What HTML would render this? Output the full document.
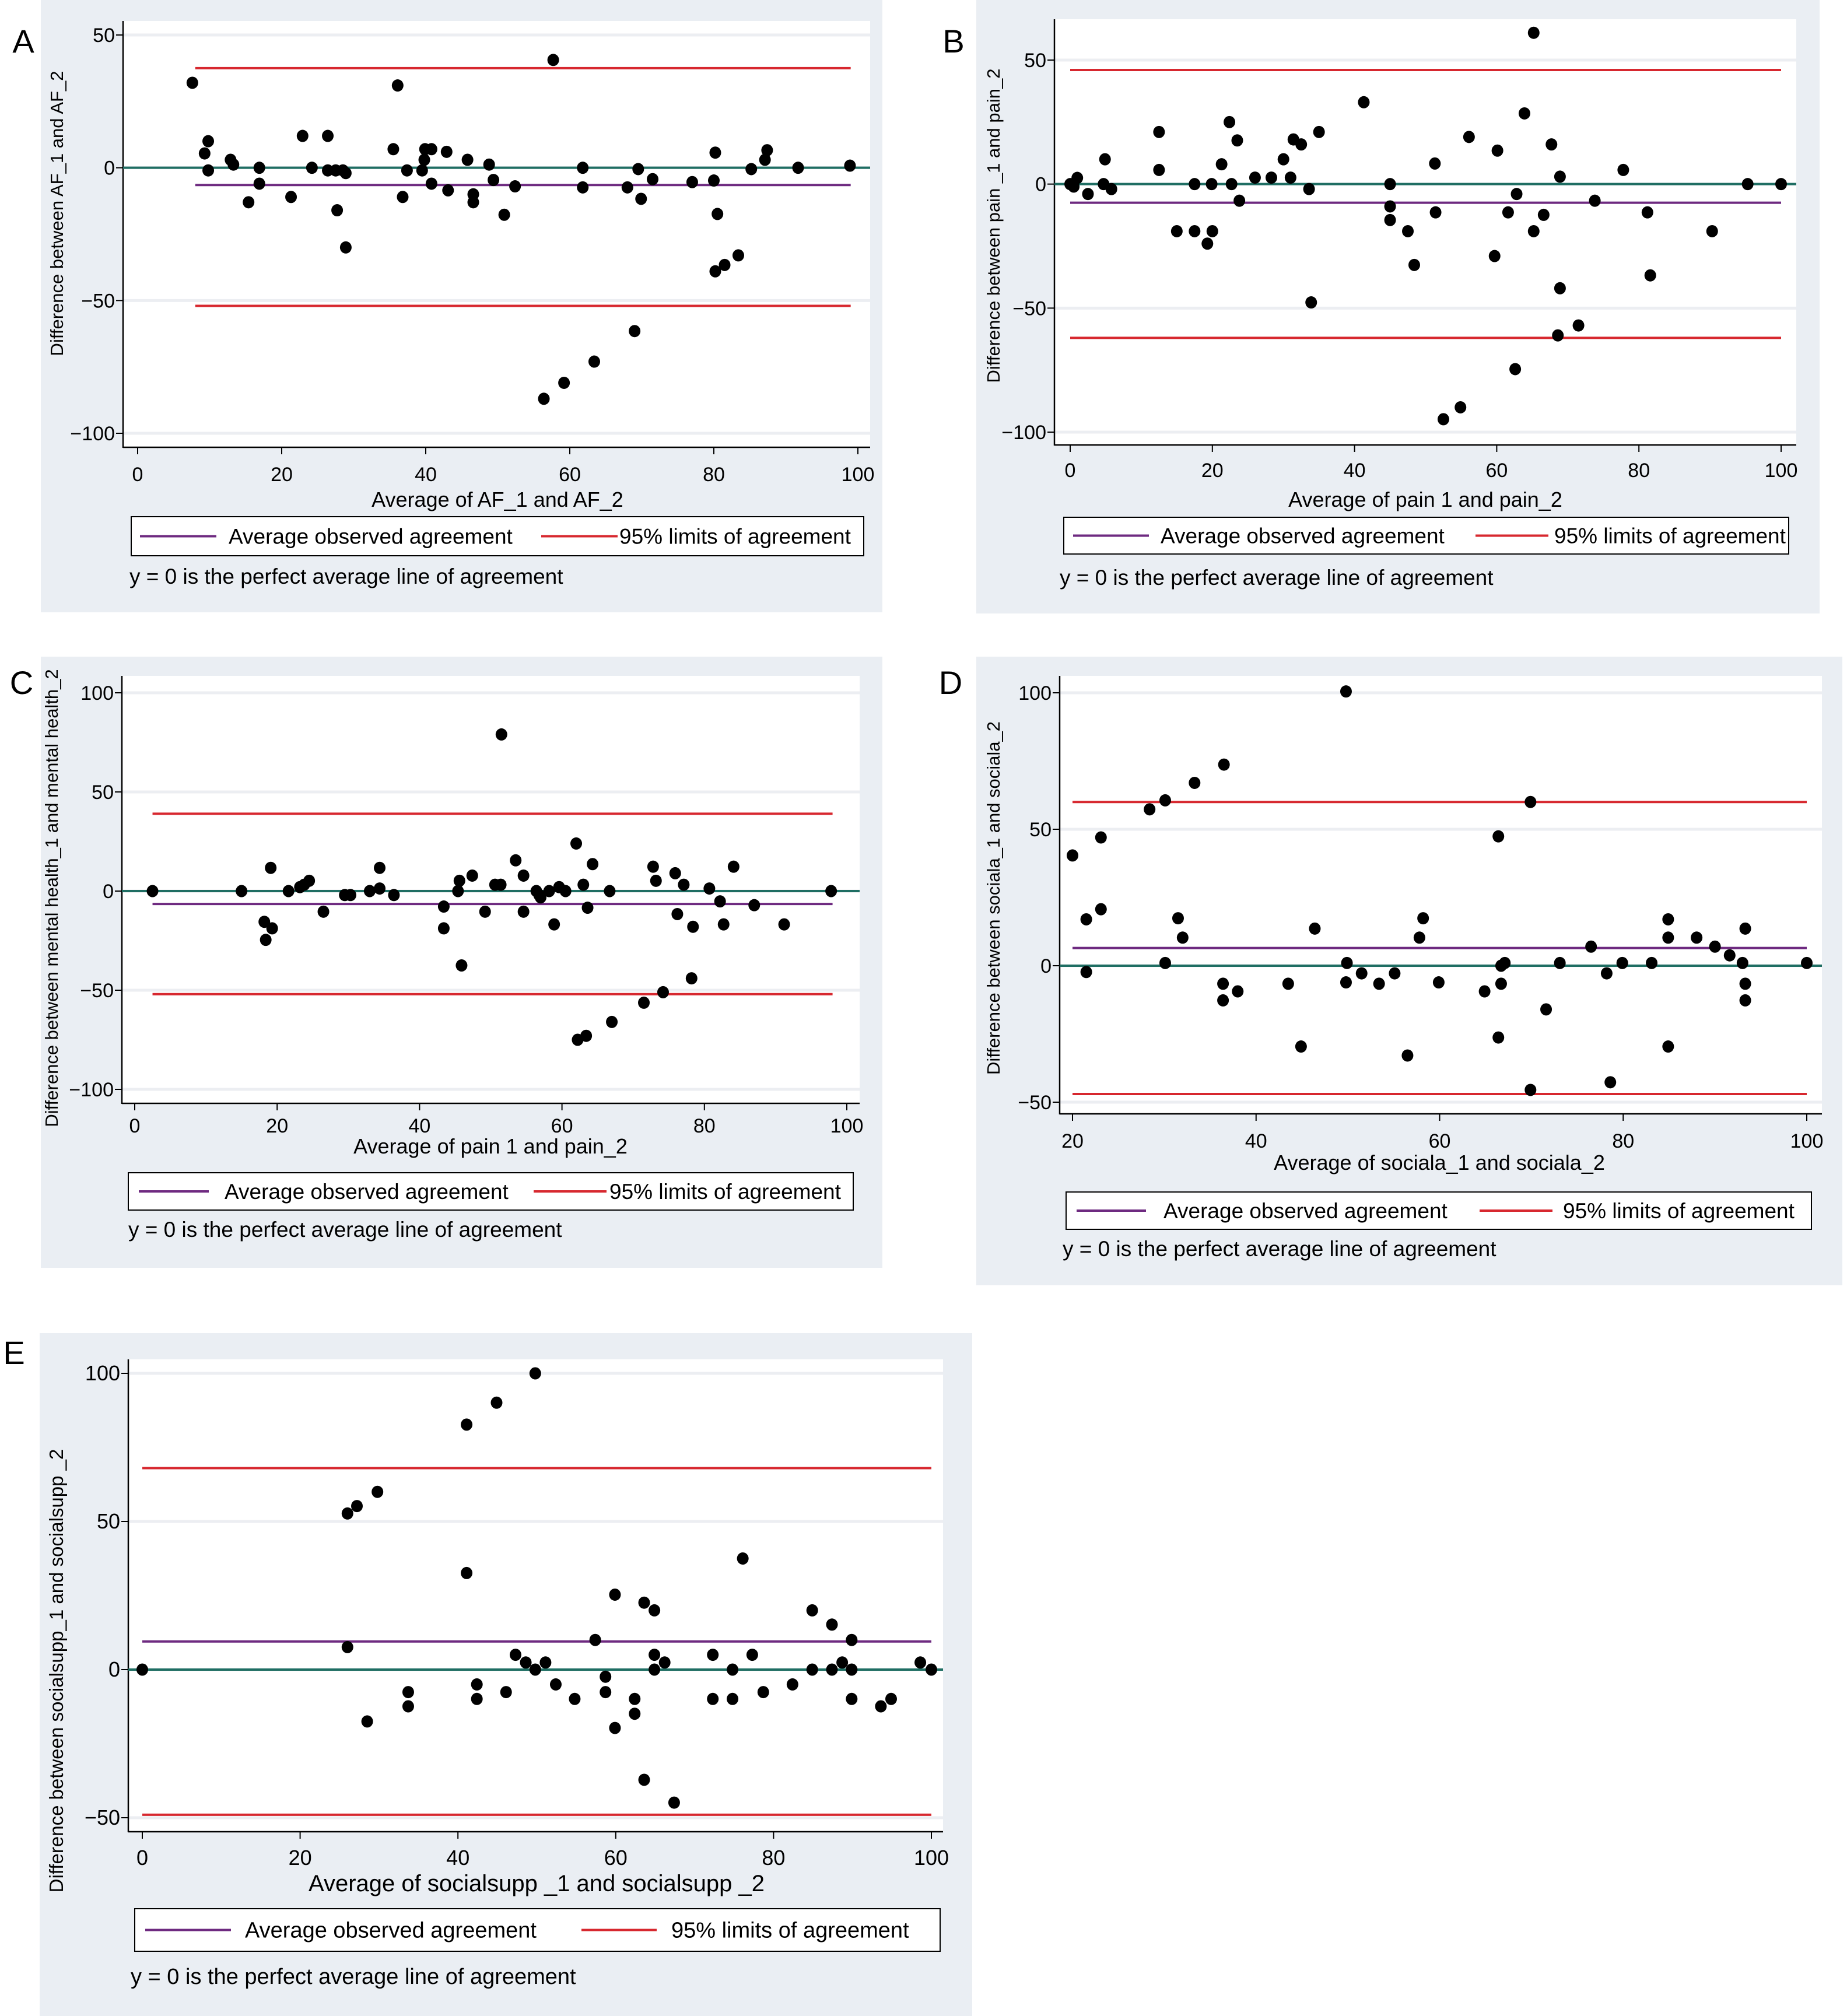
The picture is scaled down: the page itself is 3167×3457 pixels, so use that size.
<!DOCTYPE html>
<html><head><meta charset="utf-8"><style>
html,body{margin:0;padding:0;background:#fff;}
svg{display:block;font-family:"Liberation Sans",sans-serif;}
</style></head><body>
<svg id="fig" width="3167" height="3457" viewBox="0 0 3167 3457" xmlns="http://www.w3.org/2000/svg"></svg>
<script>
// ---- Panel A data ----
const aX=[7.6,9.3,9.8,9.8,12.9,13.3,15.4,16.9,16.9,21.3,22.9,24.2,26.4,26.4,27.5,27.7,28.5,28.9,28.9,35.5,36.1,36.8,37.4,39.5,39.8,39.9,40.8,40.8,42.9,43.1,45.8,46.6,46.6,48.8,49.4,50.9,52.4,56.4,57.7,59.2,61.8,61.8,63.4,68,69,69.5,69.9,71.5,77,80,80.2,80.2,80.5,81.5,83.4,85.2,87.1,87.4,91.7,98.9];
const aY=[32,5.4,10,-1,3,1.2,-13,0,-6,-11,12,0,12,-1,-1,-16,-1,-2,-30,7,31,-11,-1,-1,3,7,7,-6,6,-8.5,3,-10,-13,1.2,-4.6,-17.7,-7,-87,40.6,-81,0,-7.4,-73,-7.4,-61.5,-0.5,-11.7,-4.3,-5.4,-4.8,5.7,-39,-17.4,-36.6,-33,-0.5,3,6.6,0,0.8];
const aLines=[37.5,-6.5,-52];
const aXTicks=[0,20,40,60,80,100];
const aYTicks=[50,0,-50,-100];
// ---- Panel B data ----
const bX=[0,0.5,1,2.5,4.9,4.7,5.8,12.5,12.5,15,17.5,17.5,19.3,19.9,20,21.3,22.4,22.7,23.5,23.8,26,28.3,30,31,31.4,32.5,33.6,33.9,35,41.3,45,45,45,47.5,48.4,51.3,51.4,52.5,54.9,56.1,59.7,60.1,61.6,62.6,62.8,63.9,65.2,65.2,66.6,67.7,68.6,68.9,68.9,71.5,73.8,77.8,81.2,81.6,90.3,95.3,100];
const bY=[0,-1,2.5,-4,10,0,-2,21,5.7,-19,0,-19,-24,0,-19,8,25,0,17.6,-6.7,2.6,2.6,10,2.6,18,16,-2,-47.7,21,33,0,-9,-14.5,-19,-32.6,8.3,-11.4,-94.8,-90,19,-29,13.5,-11.4,-74.6,-4,28.5,61,-19,-12.4,16,-61,-42,3,-57,-6.7,5.7,-11.4,-36.8,-19,0,0];
const bLines=[46,-7.5,-62];
const bXTicks=[0,20,40,60,80,100];
const bYTicks=[50,0,-50,-100];
// ---- Panel C data ----
const cX=[2.5,15,18.2,18.4,19.1,19.3,21.6,23.2,23.8,24.5,26.5,29.5,30.3,33,34.4,34.4,36.4,43.4,43.4,45.4,45.6,45.9,47.4,49.2,50.6,51.4,51.5,53.5,54.6,54.6,56.4,56.8,57,58.2,58.9,59.6,60.5,62,62.2,63.4,63,63.6,64.3,66.7,67,71.5,72.8,73.2,74.2,75.9,76.2,77.1,78.4,78.2,80.7,82.2,82.7,84.1,87,91.2,97.8];
const cY=[0,0,-15.5,-24.6,11.7,-18.8,0,2,3.2,5.2,-10.4,-2,-2,0,1.3,11.7,-2,-7.8,-18.8,0,5.2,-37.5,7.8,-10.4,3.2,3.2,79,15.5,7.8,-10.4,0,-2,-3.2,0,-16.8,2,0,24,-75,-73,3.2,-8.4,13.6,0,-66,-56.3,12.3,5.2,-51,9,-11.6,3.2,-18,-44,1.3,-5.2,-16.8,12.3,-7.1,-16.8,0];
const cLines=[39,-6.5,-52];
const cXTicks=[0,20,40,60,80,100];
const cYTicks=[100,50,0,-50,-100];
// ---- Panel D data ----
const dX=[20,21.5,21.5,23.1,23.1,28.4,30.1,30.1,31.5,32,33.3,36.5,36.4,36.4,38,43.5,44.9,46.4,49.8,49.9,49.8,51.5,53.4,55.1,56.5,57.8,58.2,59.9,64.9,66.4,66.4,66.7,66.7,67.1,69.9,69.9,71.6,73.1,76.5,78.2,78.6,79.9,83.1,84.9,84.9,84.9,88,90,91.6,93,93.3,93.3,93.3,100];
const dY=[40.4,17,-2.3,47,20.7,57.3,60.6,1,17.4,10.3,67,73.7,-6.6,-12.7,-9.4,-6.6,-29.6,13.6,100.5,1,-6.1,-2.8,-6.6,-2.8,-32.9,10.3,17.4,-6.1,-9.4,47.4,-26.3,-6.6,0,1,60,-45.5,-16,1,7,-2.8,-42.7,1,1,17,10.3,-29.6,10.3,7,3.8,1,13.6,-6.6,-12.7,1];
const dLines=[60,6.5,-47];
const dXTicks=[20,40,60,80,100];
const dYTicks=[100,50,0,-50];
// ---- Panel E data ----
const eX=[0,26,26,27.2,28.5,29.8,33.7,33.7,41.1,41.1,42.4,42.4,44.9,46.1,47.3,48.6,49.8,49.8,51.1,52.4,54.8,57.4,58.7,58.7,59.9,59.9,62.4,62.4,63.6,63.6,64.9,64.9,64.9,66.2,67.4,72.3,72.3,74.8,74.8,76.1,77.3,78.7,82.4,84.9,84.9,87.4,87.4,88.7,89.9,89.9,89.9,93.6,94.9,98.6,100];
const eY=[0,52.7,7.6,55.2,-17.5,60,-7.6,-12.4,82.7,32.6,-5,-9.9,90.1,-7.6,5,2.4,100,0,2.4,-5,-9.9,10,-2.4,-7.6,25.3,-19.7,-9.9,-14.9,22.6,-37.2,20,5,0,2.4,-44.9,5,-9.9,0,-9.9,37.5,5,-7.6,-5,20,0,15.2,0,2.4,10,0,-9.9,-12.4,-9.9,2.4,0];
const eLines=[68,9.5,-49];
const eXTicks=[0,20,40,60,80,100];
const eYTicks=[100,50,0,-50];

const NS="http://www.w3.org/2000/svg";
const svg=document.getElementById('fig');
function mk(tag,attrs,parent,text){const e=document.createElementNS(NS,tag);for(const k in attrs)e.setAttribute(k,attrs[k]);if(text!==undefined)e.textContent=text;(parent||svg).appendChild(e);return e;}

function drawPanel(L,xs,ys,lines,xt,yt){
  const g=mk('g',{});
  
  
  const bg=mk('rect',{x:L.bg[0],y:L.bg[1],width:L.bg[2]-L.bg[0],height:L.bg[3]-L.bg[1],fill:'#eaeef3'},g);
  
  
  const [px0,py0,px1,py1]=L.plot;
  const pr=mk('rect',{x:px0,y:py0,width:px1-px0,height:py1-py0,fill:'#ffffff'},g);
  
  
  const sx=v=>L.xm[1]+(v-L.xm[0])*(L.xm[3]-L.xm[1])/(L.xm[2]-L.xm[0]);
  const sy=v=>L.ym[1]+(v-L.ym[0])*(L.ym[3]-L.ym[1])/(L.ym[2]-L.ym[0]);
  yt.forEach(t=>{
    const gl=mk('line',{x1:px0,x2:px1,y1:sy(t),y2:sy(t),stroke:'#eceef2','stroke-width':5},g);
    
    
    mk('line',{x1:px0-12,x2:px0,y1:sy(t),y2:sy(t),stroke:'#000','stroke-width':2},g);
    const tl=mk('text',{x:px0-14,y:sy(t)+12,'text-anchor':'end','font-size':L.tfs,fill:'#000'},g,t<0?'\u2212'+Math.abs(t):String(t));
    
    
  });
  xt.forEach(t=>{
    mk('line',{x1:sx(t),x2:sx(t),y1:py1,y2:py1+12,stroke:'#000','stroke-width':2},g);
    const tl=mk('text',{x:sx(t),y:L.xtb,'text-anchor':'middle','font-size':L.tfs,fill:'#000'},g,String(t));
    
    
  });
  mk('line',{x1:px0,x2:px0,y1:py0,y2:py1+1,stroke:'#000','stroke-width':2.5},g);
  mk('line',{x1:px0,x2:px1,y1:py1,y2:py1,stroke:'#000','stroke-width':2.5},g);
  const x0=sx(L.lx[0]),x1=sx(L.lx[1]);
  const zl=mk('line',{x1:px0,x2:px1,y1:sy(0),y2:sy(0),stroke:'#1f6e63','stroke-width':4},g);
  
  
  const up=mk('line',{x1:x0,x2:x1,y1:sy(lines[0]),y2:sy(lines[0]),stroke:'#d7282f','stroke-width':4},g);
  
  
  const mn=mk('line',{x1:x0,x2:x1,y1:sy(lines[1]),y2:sy(lines[1]),stroke:'#6e2a80','stroke-width':4},g);
  
  
  const lo=mk('line',{x1:x0,x2:x1,y1:sy(lines[2]),y2:sy(lines[2]),stroke:'#d7282f','stroke-width':4},g);
  
  
  xs.forEach((v,i)=>{
    const c=mk('ellipse',{cx:sx(v),cy:sy(ys[i]),rx:10,ry:10.5,fill:'#000'},g);
    
    
  });
  const xtl=mk('text',{x:L.xtc,y:L.xtt,'text-anchor':'middle','font-size':L.xfs,fill:'#000'},g,L.xtitle);
  
  
  const ytl=mk('text',{x:0,y:0,'text-anchor':'middle','font-size':L.yfs,fill:'#000',transform:`translate(${L.ytp[0]},${L.ytp[1]}) rotate(-90)`},g,L.ytitle);
  
  
  const let_=mk('text',{x:L.let[0],y:L.let[1],'text-anchor':'middle','font-size':56,fill:'#000'},g,L.id);
  
  
  const lb=L.leg;
  const lg=mk('g',{},g);
  
  
  mk('rect',{x:lb[0],y:lb[1],width:lb[2]-lb[0],height:lb[3]-lb[1],fill:'#fff',stroke:'#000','stroke-width':2},lg);
  const ly=(lb[1]+lb[3])/2;
  mk('line',{x1:L.le[0],x2:L.le[1],y1:ly,y2:ly,stroke:'#6e2a80','stroke-width':4},lg);
  const t1=mk('text',{x:L.le[2],y:ly+13,'font-size':L.lfs,fill:'#000'},lg,'Average observed agreement');
  
  
  mk('line',{x1:L.le[3],x2:L.le[4],y1:ly,y2:ly,stroke:'#d7282f','stroke-width':4},lg);
  const t2=mk('text',{x:L.le[5],y:ly+13,'font-size':L.lfs,fill:'#000'},lg,'95% limits of agreement');
  
  
  const nt=mk('text',{x:L.note[0],y:L.note[1],'font-size':L.lfs,fill:'#000'},g,'y = 0 is the perfect average line of agreement');
  
  
}

drawPanel({id:'A',bg:[70,0,1513,1050],plot:[211,36,1492,767],xm:[0,236,100,1471],ym:[50,60,-100,743],
  lx:[8,99],xtb:825,tfs:34,xtc:853,xtt:869,xfs:36,xtitle:'Average of AF_1 and AF_2',
  ytp:[108,366],yfs:31,ytitle:'Difference between AF_1 and AF_2',let:[40,90],
  leg:[225,886,1481,953],le:[240,371,392,928,1059,1062],lfs:37,note:[222,1001]},aX,aY,aLines,aXTicks,aYTicks);

drawPanel({id:'B',bg:[1674,0,3120,1052],plot:[1808,33,3080,763],xm:[0,1835,100,3054],ym:[50,103,-100,741],
  lx:[0,100],xtb:818,tfs:34,xtc:2444,xtt:869,xfs:36,xtitle:'Average of pain 1 and pain_2',
  ytp:[1714,387],yfs:31,ytitle:'Difference between pain _1 and pain_2',let:[1635,90],
  leg:[1824,887,3067,950],le:[1840,1970,1990,2530,2655,2665],lfs:37,note:[1817,1003]},bX,bY,bLines,bXTicks,bYTicks);

drawPanel({id:'C',bg:[70,1126,1513,2174],plot:[209,1159,1474,1892],xm:[0,231,100,1452],ym:[100,1188,-100,1868],
  lx:[2.5,98],xtb:1942,tfs:34,xtc:841,xtt:1978,xfs:36,xtitle:'Average of pain 1 and pain_2',
  ytp:[99,1540],yfs:31,ytitle:'Difference between mental health_1 and mental health_2',let:[37,1190],
  leg:[220,2011,1463,2075],le:[238,358,385,915,1040,1045],lfs:37,note:[220,2121]},cX,cY,cLines,cXTicks,cYTicks);

drawPanel({id:'D',bg:[1674,1126,3159,2204],plot:[1817,1159,3124,1910],xm:[20,1839,100,3098],ym:[100,1188,-50,1890],
  lx:[20,100],xtb:1968,tfs:34,xtc:2468,xtt:2006,xfs:36,xtitle:'Average of sociala_1 and sociala_2',
  ytp:[1714,1540],yfs:31,ytitle:'Difference between sociala_1 and sociala_2',let:[1630,1190],
  leg:[1828,2044,3106,2108],le:[1846,1965,1995,2537,2662,2680],lfs:37,note:[1822,2154]},dX,dY,dLines,dXTicks,dYTicks);

drawPanel({id:'E',bg:[68,2286,1667,3457],plot:[220,2331,1617,3141],xm:[0,244,100,1597],ym:[100,2355,-50,3117],
  lx:[0,100],xtb:3198,tfs:36,xtc:920,xtt:3243,xfs:40,xtitle:'Average of socialsupp _1 and socialsupp _2',
  ytp:[108,2865],yfs:33,ytitle:'Difference between socialsupp_1 and socialsupp _2',let:[24,2339],
  leg:[231,3273,1612,3346],le:[249,396,420,997,1126,1151],lfs:38,note:[224,3402]},eX,eY,eLines,eXTicks,eYTicks);
</script>
</body></html>
